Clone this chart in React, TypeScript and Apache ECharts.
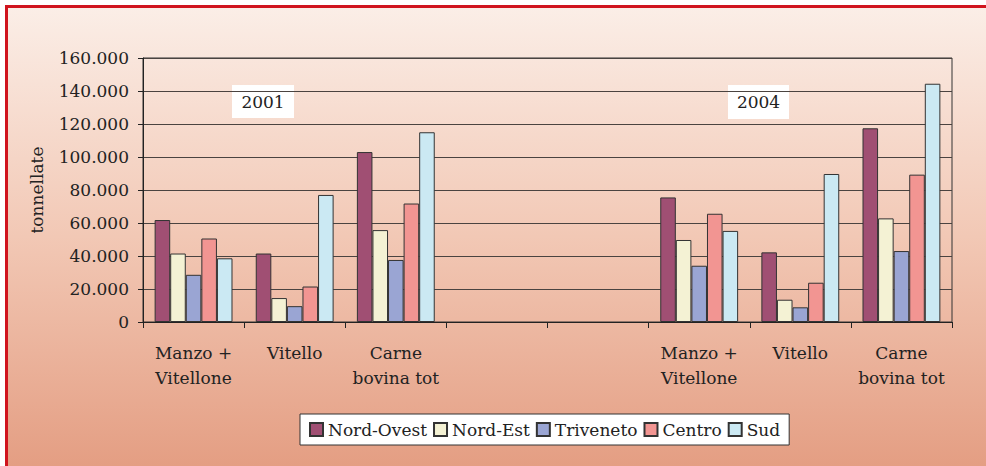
import React, { useEffect, useRef } from "react";
import * as echarts from "echarts";

const categories = [
  "Manzo +\nVitellone",
  "Vitello",
  "Carne\nbovina tot",
  "",
  "",
  "Manzo +\nVitellone",
  "Vitello",
  "Carne\nbovina tot",
];
const seriesNames = ["Nord-Ovest", "Nord-Est", "Triveneto", "Centro", "Sud"];
const nordOvest = [61800, 41500, 103000, null, null, 75500, 42200, 117400];
const nordEst = [41500, 14500, 55700, null, null, 49700, 13500, 62800];
const triveneto = [28600, 9600, 37600, null, null, 34100, 8900, 43000];
const centro = [50600, 21500, 71800, null, null, 65600, 23800, 89300];
const sud = [38600, 77000, 115000, null, null, 55200, 89700, 144400];
const yearLabels = ["2001", "2004"];
const yTicks = { min: 0, max: 160000, interval: 20000 };

const colors = ["#a04f73", "#f4f2d4", "#9aa5d3", "#f29592", "#cbe9f3"];
const FONT = "DejaVu Serif";
const FS = 17;

export default function App() {
  const ref = useRef<HTMLDivElement>(null);
  useEffect(() => {
    if (!ref.current) return;
    const chart = echarts.init(ref.current, null, { renderer: "svg" });
    const values = [nordOvest, nordEst, triveneto, centro, sud];
    const yearBox = (label: string, x: number, y: number, w: number, h: number) => ({
      type: "group",
      x,
      y,
      z: 50,
      children: [
        { type: "rect", shape: { x: 0, y: 0, width: w, height: h }, style: { fill: "#ffffff" } },
        {
          type: "text",
          x: w / 2,
          y: h / 2,
          style: {
            text: label,
            fontFamily: FONT,
            fontSize: FS,
            fill: "#222",
            align: "center",
            verticalAlign: "middle",
          },
        },
      ],
    });
    chart.setOption({
      animation: false,
      textStyle: { fontFamily: FONT },
      graphic: [
        {
          type: "rect",
          z: -10,
          silent: true,
          shape: { x: 7, y: 7, width: 979, height: 459 },
          style: {
            fill: new echarts.graphic.LinearGradient(0, 0, 0, 1, [
              { offset: 0, color: "#fbeee7" },
              { offset: 0.5, color: "#f2c8b5" },
              { offset: 1, color: "#e49e83" },
            ]),
          },
        },
        {
          type: "line",
          z: 60,
          shape: { x1: 5, y1: 6.5, x2: 986, y2: 6.5 },
          style: { stroke: "#d0141e", lineWidth: 3 },
        },
        {
          type: "line",
          z: 60,
          shape: { x1: 6.5, y1: 5, x2: 6.5, y2: 466 },
          style: { stroke: "#d0141e", lineWidth: 3 },
        },
        yearBox(yearLabels[0], 232, 85, 62, 33),
        yearBox(yearLabels[1], 728, 85, 61, 34),
      ],
      grid: {
        left: 143,
        right: 34,
        top: 58,
        bottom: 144,
        show: true,
        borderColor: "#333",
        borderWidth: 1,
        backgroundColor: "transparent",
      },
      legend: {
        left: 300,
        top: 414,
        orient: "horizontal",
        backgroundColor: "#ffffff",
        borderColor: "#333",
        borderWidth: 1,
        borderRadius: 0,
        padding: [7, 9, 7, 9],
        itemGap: 6,
        itemWidth: 13,
        itemHeight: 13,
        icon: "rect",
        textStyle: { fontFamily: FONT, fontSize: FS, color: "#222" },
        data: seriesNames,
      },
      xAxis: {
        type: "category",
        data: categories,
        boundaryGap: true,
        axisLine: { lineStyle: { color: "#222", width: 1 } },
        axisTick: { show: true, interval: 0, length: 6, lineStyle: { color: "#222" } },
        axisLabel: {
          interval: 0,
          fontFamily: FONT,
          fontSize: FS,
          lineHeight: 25,
          color: "#222",
          margin: 18,
        },
        splitLine: { show: false },
      },
      yAxis: {
        type: "value",
        min: yTicks.min,
        max: yTicks.max,
        interval: yTicks.interval,
        name: "tonnellate",
        nameLocation: "middle",
        nameGap: 98,
        nameRotate: 90,
        nameTextStyle: { fontFamily: FONT, fontSize: FS, color: "#222" },
        axisLine: { show: true, lineStyle: { color: "#222", width: 1 } },
        axisTick: { show: true, length: 5, lineStyle: { color: "#222" } },
        axisLabel: {
          fontFamily: FONT,
          fontSize: FS,
          color: "#222",
          margin: 14,
          formatter: (v: number) => (v === 0 ? "0" : `${Math.round(v / 1000)}.000`),
        },
        splitLine: { show: true, lineStyle: { color: "#4a4340", width: 1 } },
      },
      series: seriesNames.map((name, i) => ({
        name,
        type: "bar",
        data: values[i],
        barGap: "0%",
        barCategoryGap: "23%",
        itemStyle: { color: colors[i], borderColor: "#333", borderWidth: 1 },
      })),
    });
    return () => chart.dispose();
  }, []);
  return (
    <div
      ref={ref}
      style={{ position: "absolute", left: 0, top: 0, width: 986, height: 466 }}
    />
  );
}
